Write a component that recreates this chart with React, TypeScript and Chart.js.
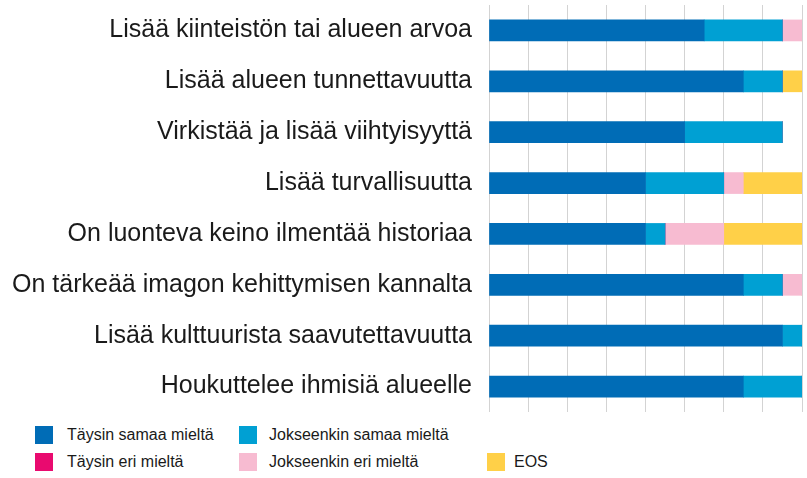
import React, { useEffect, useRef } from "react";
import { Chart, registerables } from "chart.js";

Chart.register(...registerables);

const categories = [
  "Lisää kiinteistön tai alueen arvoa",
  "Lisää alueen tunnettavuutta",
  "Virkistää ja lisää viihtyisyyttä",
  "Lisää turvallisuutta",
  "On luonteva keino ilmentää historiaa",
  "On tärkeää imagon kehittymisen kannalta",
  "Lisää kulttuurista saavutettavuutta",
  "Houkuttelee ihmisiä alueelle",
];

const seriesNames = [
  "Täysin samaa mieltä",
  "Jokseenkin samaa mieltä",
  "Täysin eri mieltä",
  "Jokseenkin eri mieltä",
  "EOS",
];

const taysinSamaa = [11, 13, 10, 8, 8, 13, 15, 13];
const jokseenkinSamaa = [4, 2, 5, 4, 1, 2, 1, 3];
const taysinEri = [0, 0, 0, 0, 0, 0, 0, 0];
const jokseenkinEri = [1, 0, 0, 1, 3, 1, 0, 0];
const eos = [0, 1, 0, 3, 4, 0, 0, 0];

const axisMax = 16;
const axisStep = 2;

const colors = ["#006cb6", "#00a0d3", "#e90a6f", "#f7bbd1", "#ffd048"];
const FONT = "'Liberation Sans', Arial, Helvetica, sans-serif";

export default function App() {
  const ref = useRef<HTMLCanvasElement>(null);

  useEffect(() => {
    document.body.style.margin = "0";
    const values = [taysinSamaa, jokseenkinSamaa, taysinEri, jokseenkinEri, eos];
    const chart = new Chart(ref.current!, {
      type: "bar",
      data: {
        labels: categories,
        datasets: seriesNames.map((name, i) => ({
          label: name,
          data: values[i],
          backgroundColor: colors[i],
          borderWidth: 0,
          barThickness: 21,
        })),
      },
      options: {
        indexAxis: "y",
        responsive: false,
        animation: false,
        layout: { padding: { top: 5, right: 5, bottom: 0, left: 0 } },
        plugins: { legend: { display: false }, tooltip: { enabled: false } },
        scales: {
          x: {
            stacked: true,
            min: 0,
            max: axisMax,
            ticks: { display: false, stepSize: axisStep },
            grid: { color: "#d3d3d3", lineWidth: 1, drawTicks: false },
            border: { display: false },
          },
          y: {
            stacked: true,
            grid: { display: false, drawTicks: false },
            border: { display: true, color: "#d3d3d3", width: 1 },
            ticks: {
              color: "#1a1a1a",
              padding: 17,
              font: { family: FONT, size: 25 },
            },
            afterFit: (scale: any) => {
              scale.width = 489;
              scale.paddingTop = 0;
              scale.paddingBottom = 0;
            },
          },
        },
      },
    });
    return () => chart.destroy();
  }, []);

  const legendItems = [
    { i: 0, left: 35, top: 426, textLeft: 67 },
    { i: 1, left: 239, top: 426, textLeft: 269 },
    { i: 2, left: 35, top: 453, textLeft: 67 },
    { i: 3, left: 239, top: 453, textLeft: 269 },
    { i: 4, left: 487, top: 453, textLeft: 514 },
  ];

  return (
    <div style={{ position: "relative", width: 807, height: 478, background: "#fff", fontFamily: FONT }}>
      <canvas ref={ref} width={807} height={412} style={{ position: "absolute", left: 0, top: 0 }} />
      {legendItems.map((it) => (
        <React.Fragment key={it.i}>
          <div
            style={{
              position: "absolute",
              left: it.left,
              top: it.top,
              width: 18,
              height: 18,
              background: colors[it.i],
            }}
          />
          <div
            style={{
              position: "absolute",
              left: it.textLeft,
              top: it.top - 1,
              height: 20,
              lineHeight: "20px",
              fontSize: 16,
              color: "#1a1a1a",
              whiteSpace: "nowrap",
            }}
          >
            {seriesNames[it.i]}
          </div>
        </React.Fragment>
      ))}
    </div>
  );
}
